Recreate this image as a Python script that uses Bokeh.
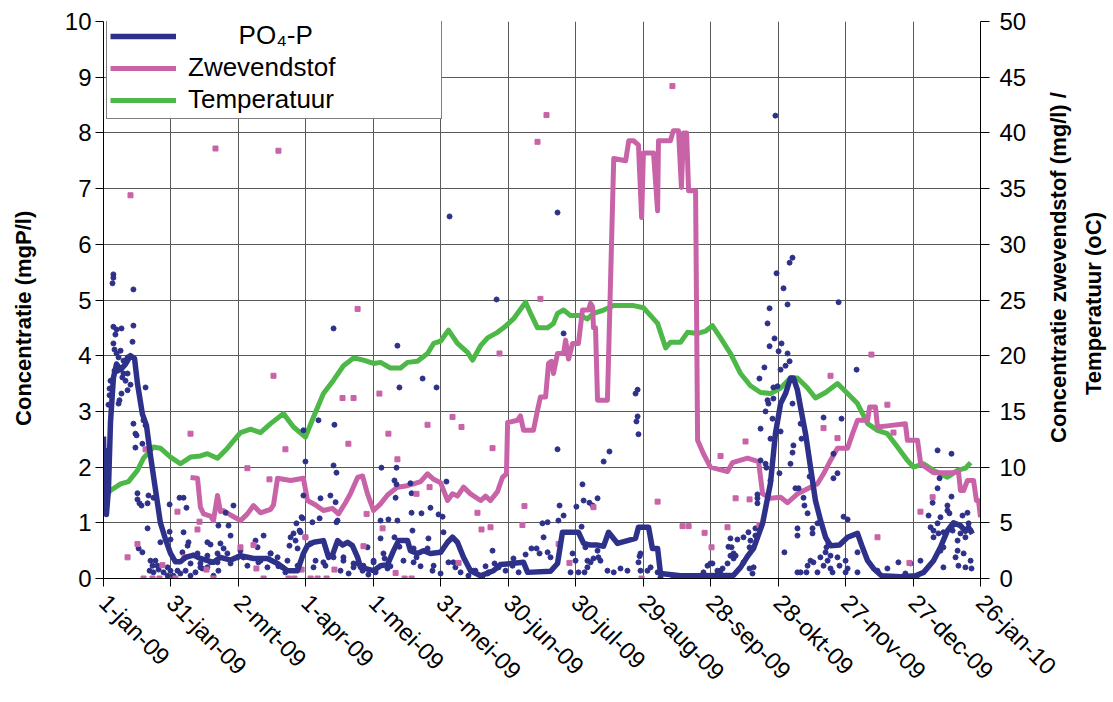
import math
from bokeh.plotting import figure
from bokeh.models import Range1d, LinearAxis, FixedTicker, Legend, LegendItem, Label
from bokeh.embed import file_html
from bokeh.resources import INLINE

FONT = "Liberation Sans"
NB = "\u00a0"

# x axis: days since 1-jan-09
tick_days = [0, 30, 60, 90, 120, 150, 180, 210, 240, 270, 300, 330, 360, 390]
tick_labels = ["1-jan-09", "31-jan-09", "2-mrt-09", "1-apr-09", "1-mei-09", "31-mei-09",
               "30-jun-09", "30-jul-09", "29-aug-09", "28-sep-09", "28-okt-09",
               "27-nov-09", "27-dec-09", "26-jan-10"]
left_ticks = [0, 1, 2, 3, 4, 5, 6, 7, 8, 9, 10]
right_ticks = [0, 5, 10, 15, 20, 25, 30, 35, 40, 45, 50]
left_title = "Concentratie (mgP/l)"
right_title_1 = "Concentratie zwevendstof (mg/l) /"
right_title_2 = "Temperatuur (oC)"

# PO4-P running line (mgP/l, left axis)
po4_line_days = [0, 0.4, 0.9, 1.3, 2.2, 3.1, 4.4, 5.8, 7.6, 9.8, 12.0, 13.8, 15.1, 17.3, 19.1, 20.9,
                 23.1, 25.3, 27.6, 29.8, 32.0, 34.2, 36.5, 40.0, 43.1, 48.9, 52.0, 56.5, 60.9, 66.7,
                 72.9, 77.4, 81.8, 86.3, 88.9, 90.7, 93.4, 97.8, 100.1, 101.8, 104.1, 106.3, 108.5,
                 110.7, 113.0, 114.3, 120.1, 123.2, 126.3, 129.0, 131.2, 135.2, 136.5, 139.6, 142.3,
                 145.4, 149.9, 153.0, 155.2, 157.4, 160.1, 163.2, 167.7, 173.4, 176.5, 186.8, 188.6,
                 198.8, 201.9, 204.1, 207.7, 211.2, 213.5, 216.6, 219.7, 222.4, 224.6, 228.6, 236.6,
                 237.9, 242.4, 244.1, 246.4, 247.7, 256.6, 265.5, 280.2, 283.3, 286.4, 289.1, 293.1,
                 296.6, 298.8, 301.1, 303.3, 305.5, 306.8, 308.6, 310.0, 312.2, 314.4, 316.6, 318.9,
                 321.1, 323.3, 327.3, 330.9, 335.3, 337.5, 339.8, 342.4, 346.0, 354.4, 361.1, 364.7,
                 369.1, 372.2, 375.3, 378.0, 381.1, 383.3, 384.7, 386.4]
po4_line_vals = [2.55, 1.6, 2.3, 1.15, 1.6, 2.8, 3.6, 3.85, 3.75, 3.85, 4.0, 3.95, 3.5, 2.95, 2.75, 2.2,
                 1.6, 1.0, 0.7, 0.45, 0.3, 0.3, 0.38, 0.42, 0.36, 0.29, 0.38, 0.33, 0.41, 0.36,
                 0.36, 0.27, 0.14, 0.14, 0.45, 0.59, 0.65, 0.68, 0.38, 0.42, 0.68, 0.6, 0.65,
                 0.59, 0.38, 0.2, 0.14, 0.23, 0.25, 0.5, 0.68, 0.68, 0.5, 0.45, 0.5,
                 0.45, 0.47, 0.65, 0.74, 0.65, 0.38, 0.14, 0.05, 0.14, 0.25, 0.29, 0.11,
                 0.13, 0.27, 0.83, 0.83, 0.83, 0.63, 0.6, 0.6, 0.58, 0.83, 0.63, 0.72,
                 0.92, 0.92, 0.54, 0.54, 0.09, 0.05, 0.05, 0.06, 0.2, 0.4, 0.54, 0.99,
                 1.71, 2.6, 3.14, 3.32, 3.6, 3.6, 3.38, 3.07, 2.6, 2.0, 1.4, 1.04,
                 0.74, 0.59, 0.6, 0.74, 0.81, 0.56, 0.32, 0.18, 0.05, 0.03, 0.05, 0.11,
                 0.32, 0.56, 0.86, 1.0, 0.95, 0.85, 0.92, 0.8]

# PO4-P samples (mgP/l, left axis)
po4_dot_days = [4.4, 4.4, 4.0, 13.3, 4.4, 5.8, 8.0, 13.3, 5.3, 12.9, 4.4, 4.9, 7.6, 5.8, 6.7, 8.9, 10.7,
                4.9, 6.2, 8.9, 10.7, 8.4, 9.8, 3.1, 12.0, 18.7, 2.7, 10.7, 8.0, 2.7, 7.1, 6.7, 2.2,
                17.8, 13.3, 18.7, 14.2, 14.7, 17.3, 14.2, 15.1, 15.1, 16.0, 20.0, 22.2, 16.9, 19.6,
                29.4, 33.8, 35.6, 36.9, 19.6, 15.6, 17.3, 25.3, 29.4, 29.8, 37.8, 37.4, 47.6, 35.1,
                41.8, 23.1, 21.8, 20.5, 22.2, 24.5, 26.7, 28.5, 29.8, 31.1, 34.2, 36.5, 38.7, 40.9,
                43.1, 44.0, 46.2, 48.9, 51.1, 57.8, 55.6, 51.1, 54.3, 35.6, 46.2, 52.0, 56.5, 71.2,
                62.3, 68.5, 74.3, 102.3, 102.7, 95.6, 88.9, 89.8, 102.3, 103.6, 100.9, 96.5, 103.2,
                88.9, 103.6, 92.9, 96.1, 123.6, 123.2, 126.7, 123.2, 84.5, 87.2, 85.4, 89.8, 85.8,
                88.1, 130.3, 129.4, 130.3, 152.5, 136.5, 137.0, 129.9, 145.4, 137.0, 141.4, 149.0,
                150.8, 104.1, 88.5, 130.7, 87.6, 83.2, 129.4, 137.4, 144.5, 151.2, 53.4, 67.6, 82.7,
                92.1, 86.3, 60.9, 117.4, 131.6, 137.9, 144.1, 111.2, 120.1, 106.7, 125.0, 133.4,
                139.2, 153.4, 169.9, 173.0, 173.9, 175.7, 77.8, 80.9, 94.3, 98.7, 105.4, 109.0,
                115.2, 117.8, 121.0, 127.6, 141.0, 146.3, 149.9, 156.5, 158.8, 162.3, 165.4, 168.5,
                171.2, 178.8, 181.9, 184.6, 153.9, 201.9, 174.8, 130.7, 204.6, 131.6, 141.9, 148.1,
                237.5, 236.6, 237.5, 237.0, 237.9, 201.9, 225.0, 222.4, 213.0, 213.5, 216.1, 219.7,
                217.5, 202.8, 210.3, 195.2, 197.5, 202.3, 204.6, 238.4, 212.6, 195.7, 190.3, 187.7,
                182.3, 192.6, 193.9, 197.5, 198.8, 208.6, 209.9, 215.2, 216.6, 220.1, 211.2, 207.7,
                213.9, 237.9, 243.3, 277.9, 278.8, 281.9, 284.6, 286.8, 280.2, 269.9, 277.5, 287.3,
                290.8, 290.8, 292.2, 294.4, 294.8, 296.6, 297.5, 292.2, 294.4, 295.3, 295.7, 297.9,
                299.7, 297.9, 290.8, 214.3, 219.7, 217.9, 221.0, 215.2, 224.1, 226.9, 229.9, 233.0,
                238.8, 241.9, 246.4, 298.8, 306.4, 305.1, 299.3, 302.4, 296.2, 304.2, 326.9, 295.3,
                298.4, 301.5, 296.2, 300.2, 304.2, 305.1, 303.3, 293.9, 301.1, 291.7, 334.9, 306.4,
                320.2, 328.2, 310.0, 301.1, 296.6, 310.4, 324.6, 306.4, 306.8, 305.5, 300.6, 326.4,
                324.6, 314.0, 307.7, 309.1, 311.3, 311.7, 313.1, 317.5, 315.3, 329.1, 330.9, 308.6,
                308.6, 315.3, 302.8, 335.3, 289.9, 287.7, 281.1, 280.2, 287.3, 314.4, 313.1, 318.8,
                320.2, 322.0, 323.3, 326.4, 327.3, 330.0, 330.9, 310.0, 317.5, 324.2, 330.0, 335.3,
                344.2, 348.6, 288.6, 370.9, 377.1, 371.8, 370.9, 377.1, 368.7, 375.3, 366.9, 375.3,
                376.2, 384.2, 382.0, 372.2, 370.9, 367.8, 369.1, 371.3, 369.1, 373.5, 372.2, 379.8,
                379.8, 378.9, 382.5, 385.6, 386.0, 383.3, 380.2, 373.5, 363.3, 358.9, 353.5, 356.6,
                361.5, 385.6, 381.1, 383.3, 373.5, 377.6, 377.5, 384.7, 315.7, 323.3, 312.6, 308.6,
                321.1, 321.5, 322.4, 289.1, 289.9, 279.3, 278.8, 275.3, 274.4, 270.8, 266.8, 261.0,
                253.5, 268.6, 273.0, 284.6, 259.7, 247.7, 238.8,
                20.9, 24.0, 28.5, 32.9, 38.7, 43.1, 47.6, 50.7, 56.5, 59.6, 64.0, 69.8, 72.9, 77.4,
                81.8, 86.3, 93.4, 97.8, 102.3, 106.7, 111.2, 115.6, 120.1, 124.5, 46.2, 50.7, 55.1,
                62.3, 68.9, 74.3, 79.6, 113.0, 126.3, 137.9, 146.8, 155.6, 164.5, 170.8]
po4_dot_vals = [5.46, 5.40, 5.30, 5.19, 4.52, 4.47, 4.49, 4.54, 4.38, 4.25, 4.22, 4.11, 4.09, 4.04, 3.97, 3.91, 3.97,
                3.73, 3.73, 3.68, 3.68, 3.61, 3.55, 3.55, 3.48, 3.43, 3.41, 3.38, 3.32, 3.29, 3.20, 3.14, 3.12,
                2.84, 2.78, 2.75, 2.60, 2.57, 2.42, 2.35, 1.53, 1.42, 1.35, 1.49, 1.45, 1.31, 1.35,
                1.33, 1.45, 1.45, 1.27, 0.90, 0.54, 0.47, 0.65, 0.84, 0.70, 0.65, 0.59, 0.61, 0.47,
                0.45, 0.32, 0.23, 0.14, 0.11, 0.16, 0.11, 0.05, 0.14, 0.05, 0.09, 0.14, 0.05, 0.11,
                0.27, 0.18, 0.20, 0.05, 0.14, 1.31, 0.95, 0.95, 1.18, 0.83, 0.65, 0.63, 0.77, 0.77,
                0.38, 0.56, 0.45, 4.49, 2.76, 2.84, 2.66, 2.10, 2.03, 1.90, 1.49, 1.44, 1.37,
                1.49, 1.01, 1.01, 1.08, 1.99, 1.04, 1.06, 0.72, 0.81, 0.86, 0.68, 0.74, 0.99,
                1.10, 1.99, 1.76, 1.69, 1.74, 1.71, 1.53, 1.45, 1.27, 1.18, 1.17, 1.15,
                1.11, 1.04, 1.08, 1.04, 0.83, 0.74, 0.74, 0.86, 0.72, 0.83, 0.54, 0.68, 0.59,
                0.63, 0.54, 0.50, 0.56, 0.57, 0.54, 0.54, 0.27, 0.32, 0.38, 0.36, 0.32,
                0.38, 0.29, 0.22, 0.50, 0.27, 0.20, 0.22, 0.11, 0.32, 0.23, 0.14, 0.09,
                0.14, 0.07, 0.11, 0.22, 0.22, 0.14, 0.09, 0.20, 0.11, 0.05, 0.14, 0.04,
                0.11, 0.14, 0.23, 0.11, 6.50, 6.57, 5.01, 4.18, 4.40, 3.43, 3.59, 3.43,
                3.39, 3.32, 2.91, 2.82, 2.59, 2.32, 2.28, 2.10, 1.69, 1.40, 1.36, 1.44,
                1.31, 1.31, 1.29, 0.99, 1.01, 1.04, 1.13, 0.40, 0.93, 0.74, 0.54, 0.43,
                0.36, 0.54, 0.45, 0.47, 0.38, 0.45, 0.32, 0.32, 0.29, 0.38, 0.11, 0.11,
                0.11, 0.29, 0.20, 0.57, 0.72, 0.70, 0.74, 0.83, 0.45, 0.27, 0.27, 0.18,
                1.44, 1.35, 2.12, 2.06, 1.99, 1.76, 2.87, 2.69, 3.00, 3.20, 3.14, 3.43,
                3.45, 3.23, 1.51, 0.56, 0.50, 0.36, 0.32, 0.20, 0.14, 0.11, 0.18, 0.14,
                0.14, 0.14, 0.11, 8.31, 5.76, 5.67, 5.48, 5.21, 4.85, 4.92, 4.96, 4.58,
                4.31, 4.22, 4.17, 4.08, 4.04, 3.90, 3.82, 3.79, 3.75, 3.59, 3.75, 3.14,
                2.89, 2.87, 2.78, 2.64, 2.51, 2.51, 2.24, 2.26, 2.39, 2.06, 1.89, 1.89,
                1.80, 1.83, 1.62, 1.62, 1.45, 1.31, 1.17, 0.99, 0.90, 1.11, 1.06, 0.90,
                0.77, 0.81, 0.47, 0.47, 0.90, 0.68, 0.41, 0.36, 0.56, 0.32, 0.23, 0.38,
                0.23, 0.32, 0.41, 0.38, 0.23, 0.32, 0.18, 0.11, 0.11, 0.11, 0.11, 0.11,
                0.14, 0.18, 0.09, 2.30, 2.24, 1.80, 1.62, 1.47, 1.36, 1.31, 1.13, 1.22,
                1.17, 1.18, 1.13, 1.10, 0.99, 0.92, 0.86, 0.81, 0.74, 0.56, 0.50, 0.68,
                0.50, 0.38, 0.45, 0.32, 0.18, 0.20, 0.23, 0.20, 0.32, 0.27, 0.29, 0.09,
                0.02, 0.86, 0.81, 0.74, 0.83, 0.86, 0.95, 0.99, 0.29, 0.18, 0.11, 0.11,
                0.47, 0.56, 0.63, 0.20, 0.77, 0.56, 0.41, 0.18, 0.14, 0.27, 0.11, 0.02,
                0.02, 0.23, 0.14, 0.29, 0.02, 0.02, 0.45,
                0.32, 0.23, 0.20, 0.14, 0.27, 0.20, 0.29, 0.45, 0.27, 0.38, 0.23, 0.32, 0.20, 0.38,
                0.32, 0.23, 0.20, 0.29, 0.38, 0.32, 0.20, 0.23, 0.29, 0.45, 0.41, 0.29, 0.45,
                0.38, 0.29, 0.45, 0.20, 0.27, 0.18, 0.29, 0.23, 0.29, 0.14, 0.09]

# Zwevendstof running line (mg/l, right axis)
zw_line_days = [38.7, 41.8, 43.1, 44.5, 47.6, 48.9, 50.7, 52.0, 53.4, 56.5, 60.9, 64.0, 66.7, 69.8, 74.3,
                75.6, 77.4, 83.2, 88.9, 90.7, 94.3, 97.8, 101.8, 104.5, 107.6, 109.8, 113.0, 115.2,
                117.4, 120.1, 123.2, 126.3, 130.7, 134.3, 137.9, 141.0, 144.1, 146.8, 149.9, 153.0,
                155.2, 157.4, 160.1, 163.2, 167.7, 169.9, 172.1, 175.2, 177.4, 179.2, 179.7, 184.1,
                185.4, 186.8, 191.2, 193.0, 194.3, 196.6, 197.9, 199.2, 200.1, 201.9, 204.6, 205.5,
                206.8, 208.6, 211.2, 213.0, 215.7, 216.6, 217.5, 217.9, 218.8, 219.7, 224.1, 226.9,
                232.2, 233.6, 235.7, 237.9, 239.3, 240.1, 244.6, 246.4, 246.8, 252.1, 253.4, 255.7,
                257.0, 257.9, 259.3, 260.2, 263.3, 264.2, 266.8, 269.9, 277.5, 279.7, 286.4, 291.3,
                293.1, 296.6, 301.1, 304.2, 308.6, 314.4, 317.5, 320.2, 323.3, 326.4, 330.9, 333.1,
                335.3, 339.8, 340.7, 343.3, 344.2, 348.6, 356.6, 357.5, 362.0, 363.4, 369.1, 378.0,
                380.2, 381.1, 382.5, 384.2, 386.9, 388.2, 389.1, 390.0]
zw_line_vals = [9.07, 9.0, 6.4, 5.8, 5.6, 5.2, 7.45, 6.0, 6.1, 5.7, 5.2, 5.8, 6.55, 5.9, 6.2,
                6.6, 9.0, 8.8, 9.0, 7.0, 6.6, 6.1, 6.3, 5.8, 6.8, 7.6, 9.07, 9.2,
                7.6, 6.1, 6.7, 7.5, 8.2, 8.3, 8.5, 8.7, 9.4, 8.9, 8.6, 7.0,
                7.6, 7.4, 8.2, 7.6, 7.0, 7.4, 7.0, 7.8, 9.07, 9.4, 14.0, 14.2,
                14.6, 13.3, 13.3, 15.1, 16.3, 16.3, 19.3, 19.5, 18.4, 20.2, 20.2, 21.4,
                19.7, 21.1, 21.1, 24.1, 24.1, 24.7, 24.4, 22.5, 22.5, 16.0, 16.0, 37.7,
                37.5, 39.3, 39.3, 38.9, 32.4, 38.2, 38.2, 33.0, 39.3, 39.3, 40.2, 40.2,
                35.1, 40.0, 40.0, 34.8, 34.8, 12.4, 11.2, 10.0, 9.6, 10.4, 10.8, 10.5,
                7.6, 7.2, 7.3, 6.8, 7.6, 8.2, 8.5, 9.4, 10.6, 11.7, 11.7, 13.0,
                14.2, 14.2, 15.4, 15.4, 13.6, 13.7, 13.9, 12.4, 12.4, 10.3, 9.5, 9.5,
                9.6, 7.9, 7.9, 8.8, 8.8, 7.0, 7.0, 5.5]

# Zwevendstof samples (mg/l, right axis)
zw_dot_days = [12.0, 49.8, 77.8, 113.0, 75.6, 106.3, 111.2, 122.7, 38.7, 126.7, 108.9, 80.9, 18.7, 64.0,
               73.8, 32.9, 117.0, 42.7, 124.1, 41.8, 89.8, 15.1, 66.7, 60.9, 115.6, 10.7, 36.0, 26.2,
               45.8, 68.0, 88.1, 102.7, 17.8, 21.8, 24.9, 32.0, 48.9, 71.2, 82.3, 84.9, 92.1, 95.2,
               99.2, 133.9, 137.0, 239.3, 194.3, 176.1, 155.2, 144.1, 159.2, 173.0, 130.7, 145.0,
               139.2, 166.3, 187.2, 217.9, 246.4, 186.3, 172.1, 168.1, 202.4, 157.9, 207.2, 129.9,
               197.0, 193.0, 253.0, 341.5, 323.3, 348.6, 320.2, 351.3, 326.4, 285.5, 274.4,
               281.1, 287.3, 368.7, 363.3, 257.5, 260.2, 277.5, 267.3, 344.2, 270.4, 291.7, 358.4]
zw_dot_vals = [34.4, 38.6, 38.4, 24.2, 18.2, 16.2, 16.2, 16.6, 13.0, 13.0, 12.1, 11.6, 11.6, 9.9,
               8.9, 6.0, 5.8, 5.1, 4.5, 4.4, 3.7, 3.1, 3.0, 2.8, 2.9, 1.9, 1.9, 1.2,
               0.8, 0.9, 0.8, 0.8, 0, 0, 0, 0, 0, 0, 0, 0, 0, 0,
               0, 0, 0, 0, 25.1, 20.2, 14.5, 13.8, 13.6, 11.7, 10.7, 8.2,
               7.6, 5.9, 6.5, 6.4, 6.9, 4.8, 4.6, 4.4, 3.1, 1.4, 1.4, 0.5,
               41.6, 39.2, 44.2, 20.1, 18.2, 15.6, 13.5, 13.1, 12.6, 12.3, 11.0,
               7.2, 7.1, 7.3, 6.0, 4.7, 4.7, 4.6, 4.1, 3.7, 2.8, 4.8, 1.4]

# Temperature (oC, right axis)
temp_days = [0, 3.1, 7.6, 11.1, 15.1, 17.8, 22.2, 25.3, 29.8, 34.2, 38.7, 43.1, 46.2, 50.7, 55.1, 60.9,
             65.4, 69.8, 74.3, 80.0, 84.5, 89.8, 93.4, 97.8, 102.3, 106.7, 111.2, 115.6, 120.1, 123.2,
             127.6, 132.1, 135.2, 139.6, 144.1, 146.8, 149.9, 153.4, 157.4, 161.9, 164.1, 167.7,
             170.8, 175.2, 177.9, 182.3, 187.7, 189.9, 193.0, 197.5, 200.1, 201.9, 204.6, 207.7,
             212.1, 215.2, 217.9, 222.4, 226.9, 235.7, 240.1, 243.3, 246.4, 250.0, 252.1, 256.6,
             259.7, 264.2, 267.7, 270.8, 274.4, 278.8, 283.3, 287.7, 292.2, 296.6, 301.1, 305.5,
             308.6, 313.1, 316.6, 321.1, 326.4, 330.9, 335.3, 339.8, 344.2, 348.6, 353.1, 357.5,
             360.2, 364.7, 369.1, 375.3, 379.8, 383.3, 385.6]
temp_vals = [7.2, 7.9, 8.5, 8.7, 9.7, 10.8, 11.8, 11.7, 10.9, 10.3, 10.9, 11.0, 11.2, 10.8, 11.7, 13.1,
             13.4, 13.1, 13.9, 14.8, 13.6, 12.7, 14.5, 16.6, 17.8, 19.1, 19.8, 19.6, 19.3, 19.4,
             18.9, 18.9, 19.4, 19.5, 20.2, 21.1, 21.3, 22.3, 21.1, 20.3, 19.6, 20.9,
             21.6, 22.1, 22.5, 23.3, 24.8, 23.8, 22.5, 22.5, 22.9, 23.8, 24.1, 23.6,
             23.6, 23.3, 23.8, 24.1, 24.5, 24.5, 24.3, 23.6, 22.9, 20.7, 21.2, 21.2,
             22.1, 22.0, 22.2, 22.7, 21.6, 20.2, 18.4, 17.3, 16.7, 16.6, 17.1, 18.0,
             18.0, 17.1, 16.2, 16.7, 17.5, 16.6, 15.7, 13.9, 13.3, 13.0, 11.8, 10.6,
             10.0, 10.3, 9.7, 9.1, 9.7, 9.9, 10.4]

BLUE = "#2E3189"
PINK = "#C963A8"
GREEN = "#4DB848"

p = figure(width=1113, height=702, x_range=Range1d(0, 390), y_range=Range1d(0, 10),
           output_backend="svg", toolbar_location=None,
           min_border_left=103, min_border_right=133, min_border_top=21, min_border_bottom=124)
p.outline_line_color = None
p.background_fill_color = "white"
p.border_fill_color = "white"
p.extra_y_ranges = {"right": Range1d(0, 50)}

green_r = p.line(temp_days, temp_vals, y_range_name="right", line_color=GREEN, line_width=5,
                 line_join="round")
pink_r = p.line(zw_line_days, zw_line_vals, y_range_name="right", line_color=PINK, line_width=5,
                line_join="round")
p.scatter(po4_dot_days, po4_dot_vals, marker="circle", size=5, color=BLUE)
p.scatter(zw_dot_days, zw_dot_vals, marker="square", size=5, color=PINK, y_range_name="right")
blue_r = p.line(po4_line_days, po4_line_vals, line_color=BLUE, line_width=5.5, line_join="round")

# grids
for g in (p.xgrid, p.ygrid):
    g.grid_line_color = "#5a5a5a"
    g.grid_line_width = 1

# x axis
xa = p.xaxis[0]
xa.ticker = FixedTicker(ticks=tick_days)
xa.major_label_overrides = {d: l for d, l in zip(tick_days, tick_labels)}
xa.major_label_orientation = -math.pi / 4
xa.major_label_standoff = 12
xa.major_label_text_font = FONT
xa.major_label_text_font_size = "24px"
xa.major_label_text_color = "black"
xa.major_tick_out = 8
xa.major_tick_in = 0
xa.minor_tick_line_color = None
xa.axis_line_color = "black"
xa.major_tick_line_color = "black"

# left axis
ya = p.yaxis[0]
ya.ticker = FixedTicker(ticks=left_ticks)
ya.major_label_text_font = FONT
ya.major_label_text_font_size = "24px"
ya.major_label_text_color = "black"
ya.major_label_standoff = 4
ya.major_tick_out = 8
ya.major_tick_in = 0
ya.minor_tick_line_color = None
ya.axis_line_color = "black"
ya.axis_label = left_title + NB * 6
ya.axis_label_text_font = FONT
ya.axis_label_text_font_style = "bold"
ya.axis_label_text_font_size = "22px"
ya.axis_label_text_color = "black"
ya.axis_label_standoff = 26

# right axis
ra = LinearAxis(y_range_name="right", ticker=FixedTicker(ticks=right_ticks))
ra.major_label_text_font = FONT
ra.major_label_text_font_size = "24px"
ra.major_label_text_color = "black"
ra.major_label_standoff = 10
ra.major_tick_out = 9
ra.major_tick_in = 0
ra.minor_tick_line_color = None
ra.axis_line_color = "black"
p.add_layout(ra, "right")

# right-hand title, two lines reading bottom-to-top
# (screen units: x from each title panel's left edge, y from the bottom)
title_style = dict(x_units="screen", y_units="screen", angle=math.pi / 2,
                   text_align="center", text_baseline="middle", text_font=FONT,
                   text_font_style="bold", text_font_size="22px", text_color="black")
p.add_layout(Label(x=29, y=311, text=right_title_1, **title_style), "right")
p.add_layout(Label(x=39, y=275, text=right_title_2, **title_style), "right")

legend = Legend(items=[
    LegendItem(label=NB * 7 + "PO\u2084-P", renderers=[blue_r]),
    LegendItem(label="Zwevendstof", renderers=[pink_r]),
    LegendItem(label="Temperatuur", renderers=[green_r]),
], location=(3, 459))
legend.margin = 0
legend.padding = 3
legend.spacing = 1
legend.glyph_width = 66
legend.glyph_height = 28
legend.label_height = 28
legend.label_width = 250
legend.label_standoff = 12
legend.label_text_font = FONT
legend.label_text_font_size = "26px"
legend.label_text_color = "black"
legend.border_line_color = "black"
legend.border_line_width = 1
legend.background_fill_alpha = 1
p.add_layout(legend)

open("out.html", "w").write(file_html(p, INLINE))
